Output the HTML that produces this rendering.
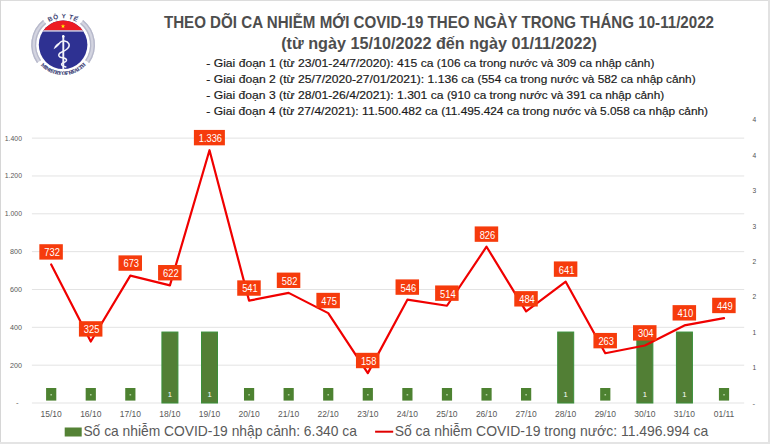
<!DOCTYPE html>
<html><head><meta charset="utf-8"><style>
html,body{margin:0;padding:0;background:#fff;}
body{width:770px;height:444px;overflow:hidden;position:relative;font-family:'Liberation Sans', sans-serif;}
svg{position:absolute;left:0;top:0;}
</style></head><body>
<svg width="770" height="444" viewBox="0 0 770 444" font-family="'Liberation Sans', sans-serif">
<rect x="0" y="0" width="770" height="444" fill="#fff"/>

<rect x="0" y="0" width="770" height="1" fill="#dcdcdc"/>
<rect x="0" y="0" width="1" height="444" fill="#d6d6d6"/>
<rect x="768" y="0" width="2" height="444" fill="#e2e2e2"/>
<rect x="0" y="442" width="770" height="2" fill="#e4e4e4"/>
<rect x="31.9" y="402.50" width="712.3" height="1" fill="#e3e3e3"/>
<rect x="31.9" y="364.66" width="712.3" height="1" fill="#e3e3e3"/>
<rect x="31.9" y="326.82" width="712.3" height="1" fill="#e3e3e3"/>
<rect x="31.9" y="288.98" width="712.3" height="1" fill="#e3e3e3"/>
<rect x="31.9" y="251.14" width="712.3" height="1" fill="#e3e3e3"/>
<rect x="31.9" y="213.30" width="712.3" height="1" fill="#e3e3e3"/>
<rect x="31.9" y="175.46" width="712.3" height="1" fill="#e3e3e3"/>
<rect x="31.9" y="137.62" width="712.3" height="1" fill="#e3e3e3"/>
<text x="18.6" y="405.10" font-size="7.8" fill="#595959" text-anchor="end">-</text>
<text x="22.0" y="367.66" font-size="7.8" fill="#595959" text-anchor="end" textLength="11.9" lengthAdjust="spacingAndGlyphs">200</text>
<text x="22.0" y="329.82" font-size="7.8" fill="#595959" text-anchor="end" textLength="11.9" lengthAdjust="spacingAndGlyphs">400</text>
<text x="22.0" y="291.98" font-size="7.8" fill="#595959" text-anchor="end" textLength="11.9" lengthAdjust="spacingAndGlyphs">600</text>
<text x="22.0" y="254.14" font-size="7.8" fill="#595959" text-anchor="end" textLength="11.9" lengthAdjust="spacingAndGlyphs">800</text>
<text x="22.0" y="216.30" font-size="7.8" fill="#595959" text-anchor="end" textLength="17.2" lengthAdjust="spacingAndGlyphs">1.000</text>
<text x="22.0" y="178.46" font-size="7.8" fill="#595959" text-anchor="end" textLength="17.2" lengthAdjust="spacingAndGlyphs">1.200</text>
<text x="22.0" y="140.62" font-size="7.8" fill="#595959" text-anchor="end" textLength="17.2" lengthAdjust="spacingAndGlyphs">1.400</text>
<text x="752.6" y="405.90" font-size="7.8" fill="#595959">-</text>
<text x="752.6" y="370.42" font-size="7.6" fill="#505050" textLength="3.7" lengthAdjust="spacingAndGlyphs">1</text>
<text x="752.6" y="334.95" font-size="7.6" fill="#505050" textLength="3.7" lengthAdjust="spacingAndGlyphs">1</text>
<text x="752.6" y="299.47" font-size="7.6" fill="#505050" textLength="3.7" lengthAdjust="spacingAndGlyphs">2</text>
<text x="752.6" y="264.00" font-size="7.6" fill="#505050" textLength="3.7" lengthAdjust="spacingAndGlyphs">2</text>
<text x="752.6" y="228.53" font-size="7.6" fill="#505050" textLength="3.7" lengthAdjust="spacingAndGlyphs">3</text>
<text x="752.6" y="193.05" font-size="7.6" fill="#505050" textLength="3.7" lengthAdjust="spacingAndGlyphs">3</text>
<text x="752.6" y="157.57" font-size="7.6" fill="#505050" textLength="3.7" lengthAdjust="spacingAndGlyphs">4</text>
<text x="752.6" y="122.10" font-size="7.6" fill="#505050" textLength="3.7" lengthAdjust="spacingAndGlyphs">4</text>
<rect x="161.92" y="332.05" width="16.0" height="70.95" fill="#527f35" stroke="#3a8f3a" stroke-width="1"/>
<rect x="201.50" y="332.05" width="16.0" height="70.95" fill="#527f35" stroke="#3a8f3a" stroke-width="1"/>
<rect x="557.70" y="332.05" width="16.0" height="70.95" fill="#527f35" stroke="#3a8f3a" stroke-width="1"/>
<rect x="636.86" y="332.05" width="16.0" height="70.95" fill="#527f35" stroke="#3a8f3a" stroke-width="1"/>
<rect x="676.43" y="332.05" width="16.0" height="70.95" fill="#527f35" stroke="#3a8f3a" stroke-width="1"/>
<rect x="46.09" y="388" width="10.2" height="12.6" fill="#4d8231"/>
<rect x="50.39" y="394.2" width="1.6" height="1.2" fill="#c8e0b8"/>
<rect x="85.67" y="388" width="10.2" height="12.6" fill="#4d8231"/>
<rect x="89.97" y="394.2" width="1.6" height="1.2" fill="#c8e0b8"/>
<rect x="125.24" y="388" width="10.2" height="12.6" fill="#4d8231"/>
<rect x="129.54" y="394.2" width="1.6" height="1.2" fill="#c8e0b8"/>
<text x="169.92" y="397.2" font-size="7.6" fill="#fff" text-anchor="middle">1</text>
<text x="209.50" y="397.2" font-size="7.6" fill="#fff" text-anchor="middle">1</text>
<rect x="243.98" y="388" width="10.2" height="12.6" fill="#4d8231"/>
<rect x="248.28" y="394.2" width="1.6" height="1.2" fill="#c8e0b8"/>
<rect x="283.56" y="388" width="10.2" height="12.6" fill="#4d8231"/>
<rect x="287.86" y="394.2" width="1.6" height="1.2" fill="#c8e0b8"/>
<rect x="323.13" y="388" width="10.2" height="12.6" fill="#4d8231"/>
<rect x="327.43" y="394.2" width="1.6" height="1.2" fill="#c8e0b8"/>
<rect x="362.71" y="388" width="10.2" height="12.6" fill="#4d8231"/>
<rect x="367.01" y="394.2" width="1.6" height="1.2" fill="#c8e0b8"/>
<rect x="402.29" y="388" width="10.2" height="12.6" fill="#4d8231"/>
<rect x="406.59" y="394.2" width="1.6" height="1.2" fill="#c8e0b8"/>
<rect x="441.87" y="388" width="10.2" height="12.6" fill="#4d8231"/>
<rect x="446.17" y="394.2" width="1.6" height="1.2" fill="#c8e0b8"/>
<rect x="481.44" y="388" width="10.2" height="12.6" fill="#4d8231"/>
<rect x="485.74" y="394.2" width="1.6" height="1.2" fill="#c8e0b8"/>
<rect x="521.02" y="388" width="10.2" height="12.6" fill="#4d8231"/>
<rect x="525.32" y="394.2" width="1.6" height="1.2" fill="#c8e0b8"/>
<text x="565.70" y="397.2" font-size="7.6" fill="#fff" text-anchor="middle">1</text>
<rect x="600.18" y="388" width="10.2" height="12.6" fill="#4d8231"/>
<rect x="604.48" y="394.2" width="1.6" height="1.2" fill="#c8e0b8"/>
<text x="644.86" y="397.2" font-size="7.6" fill="#fff" text-anchor="middle">1</text>
<text x="684.43" y="397.2" font-size="7.6" fill="#fff" text-anchor="middle">1</text>
<rect x="718.91" y="388" width="10.2" height="12.6" fill="#4d8231"/>
<rect x="723.21" y="394.2" width="1.6" height="1.2" fill="#c8e0b8"/>
<polyline points="51.19,264.51 90.77,341.51 130.34,275.67 169.92,285.32 209.50,150.23 249.08,300.64 288.66,292.89 328.23,313.13 367.81,373.11 407.39,299.70 446.97,305.75 486.54,246.72 526.12,311.43 565.70,281.72 605.28,353.24 644.86,345.48 684.43,325.43 724.01,318.05" fill="none" stroke="#f00000" stroke-width="2.2" stroke-linejoin="round" stroke-linecap="round"/>
<rect x="39.34" y="244.21" width="23.5" height="15.4" fill="#f63b0c"/>
<text x="52.09" y="256.31" font-size="10.2" fill="#fff" text-anchor="middle" textLength="15.6" lengthAdjust="spacingAndGlyphs">732</text>
<rect x="78.92" y="321.21" width="23.5" height="15.4" fill="#f63b0c"/>
<text x="91.67" y="333.31" font-size="10.2" fill="#fff" text-anchor="middle" textLength="15.6" lengthAdjust="spacingAndGlyphs">325</text>
<rect x="118.49" y="255.37" width="23.5" height="15.4" fill="#f63b0c"/>
<text x="131.24" y="267.47" font-size="10.2" fill="#fff" text-anchor="middle" textLength="15.6" lengthAdjust="spacingAndGlyphs">673</text>
<rect x="158.07" y="265.02" width="23.5" height="15.4" fill="#f63b0c"/>
<text x="170.82" y="277.12" font-size="10.2" fill="#fff" text-anchor="middle" textLength="15.6" lengthAdjust="spacingAndGlyphs">622</text>
<rect x="193.90" y="129.93" width="31.0" height="15.4" fill="#f63b0c"/>
<text x="210.40" y="142.03" font-size="10.2" fill="#fff" text-anchor="middle" textLength="23.2" lengthAdjust="spacingAndGlyphs">1.336</text>
<rect x="237.23" y="280.34" width="23.5" height="15.4" fill="#f63b0c"/>
<text x="249.98" y="292.44" font-size="10.2" fill="#fff" text-anchor="middle" textLength="15.6" lengthAdjust="spacingAndGlyphs">541</text>
<rect x="276.81" y="272.59" width="23.5" height="15.4" fill="#f63b0c"/>
<text x="289.56" y="284.69" font-size="10.2" fill="#fff" text-anchor="middle" textLength="15.6" lengthAdjust="spacingAndGlyphs">582</text>
<rect x="316.38" y="292.83" width="23.5" height="15.4" fill="#f63b0c"/>
<text x="329.13" y="304.93" font-size="10.2" fill="#fff" text-anchor="middle" textLength="15.6" lengthAdjust="spacingAndGlyphs">475</text>
<rect x="355.96" y="352.81" width="23.5" height="15.4" fill="#f63b0c"/>
<text x="368.71" y="364.91" font-size="10.2" fill="#fff" text-anchor="middle" textLength="15.6" lengthAdjust="spacingAndGlyphs">158</text>
<rect x="395.54" y="279.40" width="23.5" height="15.4" fill="#f63b0c"/>
<text x="408.29" y="291.50" font-size="10.2" fill="#fff" text-anchor="middle" textLength="15.6" lengthAdjust="spacingAndGlyphs">546</text>
<rect x="435.12" y="285.45" width="23.5" height="15.4" fill="#f63b0c"/>
<text x="447.87" y="297.55" font-size="10.2" fill="#fff" text-anchor="middle" textLength="15.6" lengthAdjust="spacingAndGlyphs">514</text>
<rect x="474.69" y="226.42" width="23.5" height="15.4" fill="#f63b0c"/>
<text x="487.44" y="238.52" font-size="10.2" fill="#fff" text-anchor="middle" textLength="15.6" lengthAdjust="spacingAndGlyphs">826</text>
<rect x="514.27" y="291.13" width="23.5" height="15.4" fill="#f63b0c"/>
<text x="527.02" y="303.23" font-size="10.2" fill="#fff" text-anchor="middle" textLength="15.6" lengthAdjust="spacingAndGlyphs">484</text>
<rect x="553.85" y="261.42" width="23.5" height="15.4" fill="#f63b0c"/>
<text x="566.60" y="273.52" font-size="10.2" fill="#fff" text-anchor="middle" textLength="15.6" lengthAdjust="spacingAndGlyphs">641</text>
<rect x="593.43" y="332.94" width="23.5" height="15.4" fill="#f63b0c"/>
<text x="606.18" y="345.04" font-size="10.2" fill="#fff" text-anchor="middle" textLength="15.6" lengthAdjust="spacingAndGlyphs">263</text>
<rect x="633.01" y="325.18" width="23.5" height="15.4" fill="#f63b0c"/>
<text x="645.76" y="337.28" font-size="10.2" fill="#fff" text-anchor="middle" textLength="15.6" lengthAdjust="spacingAndGlyphs">304</text>
<rect x="672.58" y="305.13" width="23.5" height="15.4" fill="#f63b0c"/>
<text x="685.33" y="317.23" font-size="10.2" fill="#fff" text-anchor="middle" textLength="15.6" lengthAdjust="spacingAndGlyphs">410</text>
<rect x="712.16" y="297.75" width="23.5" height="15.4" fill="#f63b0c"/>
<text x="724.91" y="309.85" font-size="10.2" fill="#fff" text-anchor="middle" textLength="15.6" lengthAdjust="spacingAndGlyphs">449</text>
<text x="51.19" y="417.4" font-size="8.5" fill="#595959" text-anchor="middle">15/10</text>
<text x="90.77" y="417.4" font-size="8.5" fill="#595959" text-anchor="middle">16/10</text>
<text x="130.34" y="417.4" font-size="8.5" fill="#595959" text-anchor="middle">17/10</text>
<text x="169.92" y="417.4" font-size="8.5" fill="#595959" text-anchor="middle">18/10</text>
<text x="209.50" y="417.4" font-size="8.5" fill="#595959" text-anchor="middle">19/10</text>
<text x="249.08" y="417.4" font-size="8.5" fill="#595959" text-anchor="middle">20/10</text>
<text x="288.66" y="417.4" font-size="8.5" fill="#595959" text-anchor="middle">21/10</text>
<text x="328.23" y="417.4" font-size="8.5" fill="#595959" text-anchor="middle">22/10</text>
<text x="367.81" y="417.4" font-size="8.5" fill="#595959" text-anchor="middle">23/10</text>
<text x="407.39" y="417.4" font-size="8.5" fill="#595959" text-anchor="middle">24/10</text>
<text x="446.97" y="417.4" font-size="8.5" fill="#595959" text-anchor="middle">25/10</text>
<text x="486.54" y="417.4" font-size="8.5" fill="#595959" text-anchor="middle">26/10</text>
<text x="526.12" y="417.4" font-size="8.5" fill="#595959" text-anchor="middle">27/10</text>
<text x="565.70" y="417.4" font-size="8.5" fill="#595959" text-anchor="middle">28/10</text>
<text x="605.28" y="417.4" font-size="8.5" fill="#595959" text-anchor="middle">29/10</text>
<text x="644.86" y="417.4" font-size="8.5" fill="#595959" text-anchor="middle">30/10</text>
<text x="684.43" y="417.4" font-size="8.5" fill="#595959" text-anchor="middle">31/10</text>
<text x="724.01" y="417.4" font-size="8.5" fill="#595959" text-anchor="middle">01/11</text>
<rect x="64.7" y="427.5" width="17" height="9" fill="#548235"/>
<text x="83.4" y="436.3" font-size="13.9" fill="#595959" textLength="273.5" lengthAdjust="spacingAndGlyphs">Số ca nhiễm COVID-19 nhập cảnh: 6.340 ca</text>
<rect x="375.1" y="430.7" width="18.1" height="2" fill="#e00000"/>
<text x="394.7" y="436.3" font-size="13.9" fill="#595959" textLength="313.6" lengthAdjust="spacingAndGlyphs">Số ca nhiễm COVID-19 trong nước: 11.496.994 ca</text>
<text x="163.9" y="27.5" font-size="17" font-weight="bold" fill="#4d4d4d" textLength="550.1" lengthAdjust="spacingAndGlyphs">THEO DÕI CA NHIỄM MỚI COVID-19 THEO NGÀY TRONG THÁNG 10-11/2022</text>
<text x="281.2" y="49.1" font-size="17" font-weight="bold" fill="#4d4d4d" textLength="315.7" lengthAdjust="spacingAndGlyphs">(từ ngày 15/10/2022 đến ngày 01/11/2022)</text>
<text x="206.3" y="67.0" font-size="11.6" fill="#1a1a1a" stroke="#1a1a1a" stroke-width="0.18" textLength="230.6" lengthAdjust="spacingAndGlyphs" xml:space="preserve">- Giai đoạn 1 (từ 23/01-24/7/2020): 415 ca </text>
<text x="436.85" y="67.0" font-size="11.6" fill="#1a1a1a" stroke="#1a1a1a" stroke-width="0.18" textLength="217.5" lengthAdjust="spacingAndGlyphs">(106 ca trong nước và 309 ca nhập cảnh)</text>
<text x="206.3" y="82.9" font-size="11.6" fill="#1a1a1a" stroke="#1a1a1a" stroke-width="0.18" textLength="271.2" lengthAdjust="spacingAndGlyphs" xml:space="preserve">- Giai đoạn 2 (từ 25/7/2020-27/01/2021): 1.136 ca </text>
<text x="477.55" y="82.9" font-size="11.6" fill="#1a1a1a" stroke="#1a1a1a" stroke-width="0.18" textLength="218.1" lengthAdjust="spacingAndGlyphs">(554 ca trong nước và 582 ca nhập cảnh)</text>
<text x="206.3" y="98.7" font-size="11.6" fill="#1a1a1a" stroke="#1a1a1a" stroke-width="0.18" textLength="240.6" lengthAdjust="spacingAndGlyphs" xml:space="preserve">- Giai đoạn 3 (từ 28/01-26/4/2021): 1.301 ca </text>
<text x="446.95" y="98.7" font-size="11.6" fill="#1a1a1a" stroke="#1a1a1a" stroke-width="0.18" textLength="217.2" lengthAdjust="spacingAndGlyphs">(910 ca trong nước và 391 ca nhập cảnh)</text>
<text x="206.3" y="114.8" font-size="11.6" fill="#1a1a1a" stroke="#1a1a1a" stroke-width="0.18" textLength="234.8" lengthAdjust="spacingAndGlyphs" xml:space="preserve">- Giai đoạn 4 (từ 27/4/2021): 11.500.482 ca </text>
<text x="441.15" y="114.8" font-size="11.6" fill="#1a1a1a" stroke="#1a1a1a" stroke-width="0.18" textLength="266.9" lengthAdjust="spacingAndGlyphs">(11.495.424 ca trong nước và 5.058 ca nhập cảnh)</text>
<g id="logo"><path d="M44.60,21.95 A29.4,29.4 0 0 0 39.02,61.66" fill="none" stroke="#d3d4e0" stroke-width="5.0"/><path d="M81.60,21.95 A29.4,29.4 0 0 1 87.18,61.66" fill="none" stroke="#d3d4e0" stroke-width="5.0"/><path d="M45.73,23.35 A27.6,27.6 0 0 0 40.49,60.63" fill="none" stroke="#b7b9cb" stroke-width="1.3"/><path d="M80.47,23.35 A27.6,27.6 0 0 1 85.71,60.63" fill="none" stroke="#b7b9cb" stroke-width="1.3"/><path d="M43.47,20.55 A31.2,31.2 0 0 0 37.54,62.70" fill="none" stroke="#b7b9cb" stroke-width="1.4"/><path d="M82.73,20.55 A31.2,31.2 0 0 1 88.66,62.70" fill="none" stroke="#b7b9cb" stroke-width="1.4"/><circle cx="63.1" cy="44.8" r="25.6" fill="#fff"/><circle cx="63.1" cy="44.8" r="24.3" fill="#2e3192"/><clipPath id="cc"><circle cx="63.1" cy="44.8" r="24.3"/></clipPath><g clip-path="url(#cc)"><rect x="30" y="15" width="70" height="15.4" fill="#ed1c24"/><rect x="30" y="30.4" width="70" height="1.1" fill="#fff"/></g><polygon points="63.00,23.90 63.56,25.43 65.19,25.49 63.90,26.49 64.35,28.06 63.00,27.15 61.65,28.06 62.10,26.49 60.81,25.49 62.44,25.43" fill="#fff200"/><path d="M63.3,36.2 L63.3,69.5" stroke="#f4f4fa" stroke-width="1.9" fill="none" stroke-linecap="round"/><ellipse cx="63.3" cy="36.4" rx="1.2" ry="1.4" fill="#fff"/><path d="M60,42.6 C62,40.3 67.2,40.3 68.9,43.8 C70.4,47.3 66,50.3 62.5,51.7 C58.6,53.2 57.6,55.5 60,57 C62.5,58.2 66.9,57.8 66.5,60.4 C66.1,62.5 62.2,62.4 61.6,64 C61.3,65.5 63.8,66.4 65.8,66.9" stroke="#f4f4fa" stroke-width="1.5" fill="none" stroke-linecap="round"/><path d="M53.6,49.2 C54.8,45.6 57.4,43 60.7,42.1 C59.7,45.1 57,47.6 53.6,49.2 Z" fill="#f4f4fa"/><path id="tp1" d="M50.61,21.31 A26.6,26.6 0 0 1 75.59,21.31" fill="none"/><text font-family="Liberation Sans, sans-serif" font-size="6.4" font-weight="bold" fill="#3b3f72" letter-spacing="0.55"><textPath href="#tp1" startOffset="50%" text-anchor="middle">BỘ Y TẾ</textPath></text><path id="tp2" d="M34.72,55.13 A30.2,30.2 0 0 0 91.48,55.13" fill="none"/><text font-family="Liberation Serif, serif" font-size="5.1" font-weight="bold" fill="#30346f" stroke="#30346f" stroke-width="0.15" letter-spacing="-0.36"><textPath href="#tp2" startOffset="50%" text-anchor="middle">MINISTRY OF HEALTH</textPath></text></g>
</svg></body></html>
